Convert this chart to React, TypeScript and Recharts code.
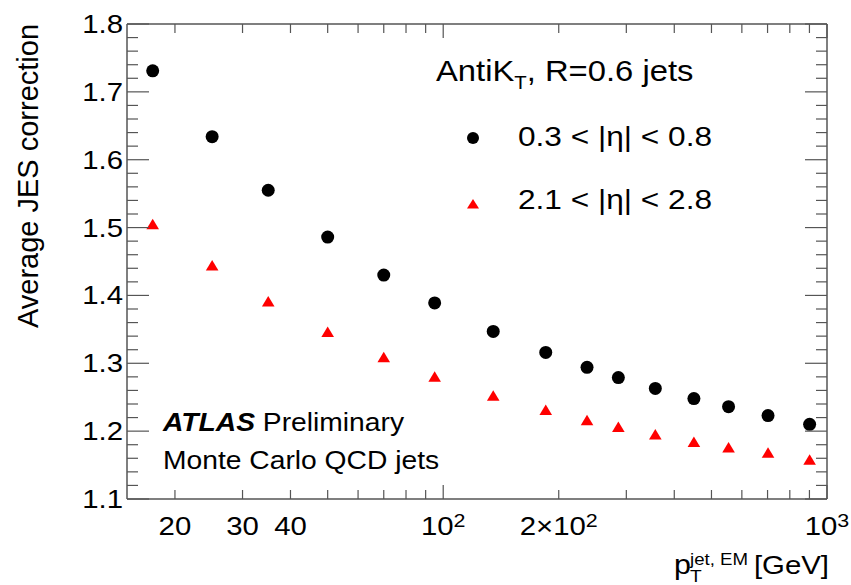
import React from "react";
import { ScatterChart, Scatter, XAxis, YAxis } from "recharts";

// jet pT bin centres [GeV]
const ptBins = [17.5, 25, 35, 50, 70, 95, 135, 185, 237, 286, 357, 450, 554, 702, 901];
// average JES correction, 0.3 < |eta| < 0.8
const corrCentral = [1.731, 1.634, 1.555, 1.486, 1.43, 1.389, 1.347, 1.316, 1.294, 1.279, 1.263, 1.248, 1.236, 1.223, 1.21];
// average JES correction, 2.1 < |eta| < 2.8
const corrForward = [1.505, 1.444, 1.391, 1.346, 1.309, 1.28, 1.252, 1.231, 1.216, 1.206, 1.195, 1.184, 1.176, 1.168, 1.158];

const xTicks = [20, 30, 40, 50, 60, 70, 80, 90, 100, 200, 300, 400, 500, 600, 700, 800, 900, 1000];
const xDecadeTicks = [100, 1000];
const xLabelTicks = [20, 30, 40, 100, 200, 1000];
const xLabelMain = ["20", "30", "40", "10", "2\u00d710", "10"];
const xLabelSup = ["", "", "", "2", "2", "3"];

const yMajorTicks = [1.1, 1.2, 1.3, 1.4, 1.5, 1.6, 1.7, 1.8];
const yMinorTicks = [
  1.12, 1.14, 1.16, 1.18, 1.22, 1.24, 1.26, 1.28, 1.32, 1.34, 1.36, 1.38,
  1.42, 1.44, 1.46, 1.48, 1.52, 1.54, 1.56, 1.58, 1.62, 1.64, 1.66, 1.68,
  1.72, 1.74, 1.76, 1.78,
];
const yTicks = [...yMajorTicks, ...yMinorTicks].sort((a, b) => a - b);

const centralData = ptBins.map((x, i) => ({ x, y: corrCentral[i] }));
const forwardData = ptBins.map((x, i) => ({ x, y: corrForward[i] }));

const FONT = "'Liberation Sans', Arial, Helvetica, sans-serif";
const FRAME = "#555";
const SX = 1.13; // the original picture is a bit wider than tall

const isMajorY = (v: number) => yMajorTicks.some((m) => Math.abs(m - v) < 1e-6);

function Txt({ x, y, size, anchor = "start", weight, italic, children }: any) {
  return (
    <text
      transform={`translate(${x},${y}) scale(${SX},1)`}
      fontFamily={FONT}
      fontSize={size}
      textAnchor={anchor}
      fontWeight={weight}
      fontStyle={italic ? "italic" : undefined}
      fill="#000"
    >
      {children}
    </text>
  );
}

function BottomTick(props: any) {
  const { x, y, payload } = props;
  const v = payload.value;
  const len = xDecadeTicks.includes(v) ? 14 : 9;
  const li = xLabelTicks.indexOf(v);
  return (
    <g>
      <line x1={x} x2={x} y1={y} y2={y - len} stroke={FRAME} strokeWidth={1.2} />
      {li >= 0 && (
        <Txt x={x} y={y + 36} size={26} anchor="middle">
          {xLabelMain[li]}
          {xLabelSup[li] && (
            <tspan fontSize={19} dy={-8}>
              {xLabelSup[li]}
            </tspan>
          )}
        </Txt>
      )}
    </g>
  );
}

function TopTick(props: any) {
  const { x, y, payload } = props;
  const len = xDecadeTicks.includes(payload.value) ? 14 : 9;
  return <line x1={x} x2={x} y1={y} y2={y + len} stroke={FRAME} strokeWidth={1.2} />;
}

function LeftTick(props: any) {
  const { x, y, payload } = props;
  const major = isMajorY(payload.value);
  return (
    <g>
      <line x1={x} x2={x + (major ? 22 : 11)} y1={y} y2={y} stroke={FRAME} strokeWidth={1.2} />
      {major && (
        <Txt x={x - 4} y={y + 9} size={26} anchor="end">
          {payload.value.toFixed(1)}
        </Txt>
      )}
    </g>
  );
}

function RightTick(props: any) {
  const { x, y, payload } = props;
  const major = isMajorY(payload.value);
  return <line x1={x} x2={x - (major ? 22 : 11)} y1={y} y2={y} stroke={FRAME} strokeWidth={1.2} />;
}

const Dot = (p: any) => <circle cx={p.cx} cy={p.cy} r={6.5} fill="#000" />;
const Tri = (p: any) => (
  <polygon
    points={`${p.cx},${p.cy - 5.5} ${p.cx - 6.3},${p.cy + 5} ${p.cx + 6.3},${p.cy + 5}`}
    fill="#ff0000"
  />
);

export default function App() {
  const axisLine = { stroke: FRAME, strokeWidth: 1.5 };
  return (
    <div style={{ position: "absolute", left: 0, top: 0, width: 851, height: 585, background: "#fff" }}>
      <ScatterChart width={851} height={585} margin={{ top: 23, right: 23, bottom: 85, left: 126 }}>
        <XAxis
          xAxisId="b"
          type="number"
          dataKey="x"
          scale="log"
          domain={[15, 1000]}
          allowDataOverflow
          ticks={xTicks}
          interval={0}
          height={1}
          tickSize={0}
          tickMargin={0}
          tickLine={false}
          axisLine={axisLine}
          tick={(p: any) => <BottomTick {...p} />}
        />
        <XAxis
          xAxisId="t"
          orientation="top"
          type="number"
          dataKey="x"
          scale="log"
          domain={[15, 1000]}
          allowDataOverflow
          ticks={xTicks}
          interval={0}
          height={1}
          tickSize={0}
          tickMargin={0}
          tickLine={false}
          axisLine={axisLine}
          tick={(p: any) => <TopTick {...p} />}
        />
        <YAxis
          yAxisId="l"
          type="number"
          dataKey="y"
          domain={[1.1, 1.8]}
          allowDataOverflow
          ticks={yTicks}
          interval={0}
          width={1}
          tickSize={0}
          tickMargin={0}
          tickLine={false}
          axisLine={axisLine}
          tick={(p: any) => <LeftTick {...p} />}
        />
        <YAxis
          yAxisId="r"
          orientation="right"
          type="number"
          dataKey="y"
          domain={[1.1, 1.8]}
          allowDataOverflow
          ticks={yTicks}
          interval={0}
          width={1}
          tickSize={0}
          tickMargin={0}
          tickLine={false}
          axisLine={axisLine}
          tick={(p: any) => <RightTick {...p} />}
        />
        <Scatter xAxisId="b" yAxisId="l" data={centralData} shape={Dot} isAnimationActive={false} />
        <Scatter xAxisId="b" yAxisId="l" data={forwardData} shape={Tri} isAnimationActive={false} />
        <Scatter xAxisId="t" yAxisId="r" data={[]} isAnimationActive={false} />
      </ScatterChart>
      <svg width={851} height={585} style={{ position: "absolute", left: 0, top: 0, pointerEvents: "none" }}>
        <text
          transform="translate(38,176) rotate(-90)"
          fontFamily={FONT}
          fontSize={29}
          textAnchor="middle"
          fill="#000"
        >
          Average JES correction
        </text>

        <Txt x={674} y={574} size={27}>p</Txt>
        <Txt x={690} y={565} size={16.5}>jet, EM</Txt>
        <Txt x={690} y={582} size={17}>T</Txt>
        <Txt x={829} y={574} size={26}>
          <tspan textAnchor="end">[GeV]</tspan>
        </Txt>

        <Txt x={436} y={81} size={29}>
          AntiK
          <tspan fontSize={18} dy={8}>T</tspan>
          <tspan dy={-8}>, R=0.6 jets</tspan>
        </Txt>

        <circle cx={473} cy={138} r={6} fill="#000" />
        <Txt x={518} y={146} size={28}>0.3 &lt; |η| &lt; 0.8</Txt>
        <polygon points="473,199 467,208.5 479,208.5" fill="#ff0000" />
        <Txt x={518} y={209} size={28}>2.1 &lt; |η| &lt; 2.8</Txt>

        <Txt x={163} y={431} size={25} weight="bold" italic>
          ATLAS
          <tspan fontWeight="normal" fontStyle="normal"> Preliminary</tspan>
        </Txt>
        <Txt x={163} y={469} size={25}>Monte Carlo QCD jets</Txt>
      </svg>
    </div>
  );
}
